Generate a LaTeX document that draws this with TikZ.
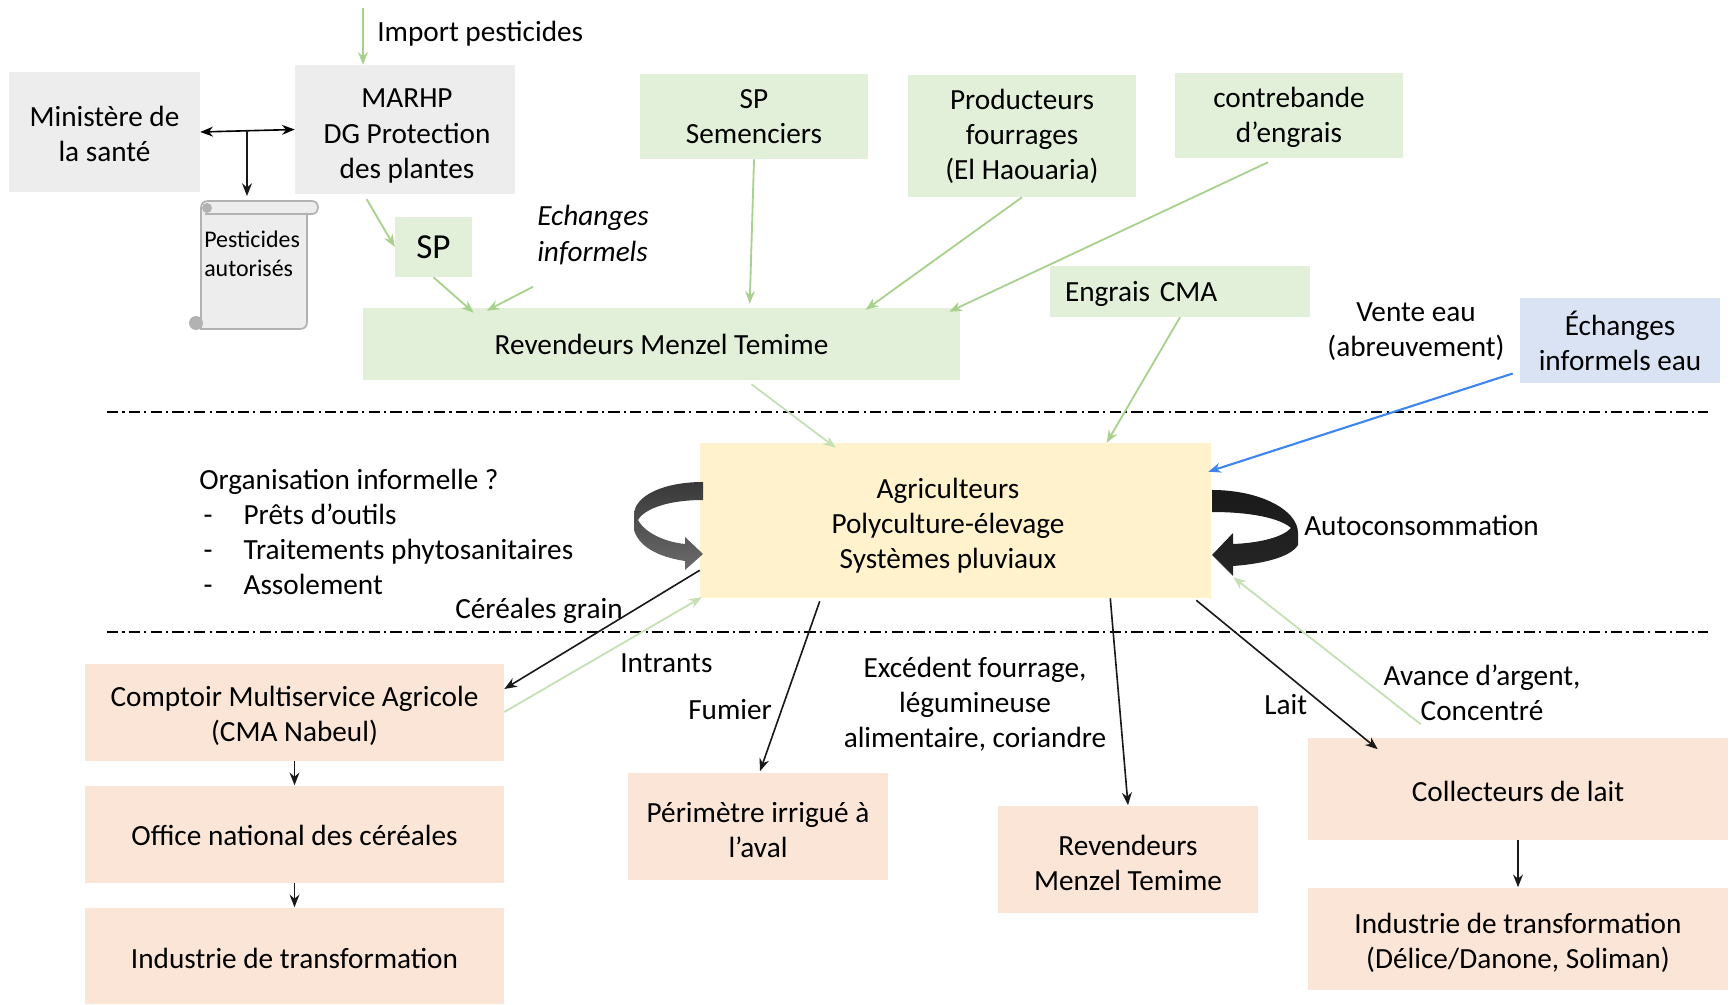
\documentclass[tikz,border=0pt]{standalone}
\usepackage{fontspec}
\setmainfont{Carlito}
\usetikzlibrary{arrows.meta}
\newcommand{\px}{0.025cm}
\definecolor{greybox}{HTML}{EDEDED}
\definecolor{greenbox}{HTML}{E2F0D9}
\definecolor{yellowbox}{HTML}{FFF2CC}
\definecolor{orangebox}{HTML}{FBE5D6}
\definecolor{bluebox}{HTML}{DAE3F3}
\definecolor{greenline}{HTML}{A9D18E}
\definecolor{palegreen}{HTML}{C5E0B4}
\definecolor{blueline}{HTML}{3D85F0}
\tikzset{
  every node/.style={font=\fontsize{20.8}{25}\selectfont},
  txt/.style={align=center, inner sep=0},
  bloc/.style={rectangle, align=center, inner sep=0, minimum width=#1*\px},
  grey/.style={bloc=#1, fill=greybox},
  green/.style={bloc=#1, fill=greenbox},
  orange/.style={bloc=#1, fill=orangebox},
  flux/.style={->, line width=1.15pt, black!90},
  vert/.style={->, line width=1.3pt, greenline},
  pale/.style={->, line width=1.3pt, palegreen},
  limite/.style={line width=.9pt, dash pattern=on 8pt off 3pt on 1.5pt off 3pt},
}
\begin{document}
\begin{tikzpicture}[x=\px, y=-\px, >={Stealth[length=9pt,width=7pt]}]
  \useasboundingbox (0,0) rectangle (1730,1005);
  % institutions
  \node[grey=191, minimum height=120*\px, text height=42.3pt, text depth=0pt] (sante) at (104.5,132) {Ministère de\\la santé};
  \node[grey=220, minimum height=129*\px] (marhp) at (405,129.5) {};
  \node[txt] (marhplabel) at (407,136) {MARHP\\DG Protection\\des plantes};
  \node[txt, anchor=west] (import) at (377,34) {Import pesticides};
  \coordinate (importin) at (363,8);
  \coordinate (dgarrow) at (247,130);
  \coordinate (scrolltop) at (247,196);
  % fournisseurs
  \node[green=77, minimum height=60*\px, font=\fontsize{25}{28}\selectfont] (sp) at (433.5,247) {SP};
  \node[green=228, minimum height=85*\px] (semenciers) at (754,116.5) {SP\\Semenciers};
  \node[green=228, minimum height=122*\px, text depth=2pt] (fourrages) at (1022,136) {Producteurs\\fourrages\\(El Haouaria)};
  \node[green=228, minimum height=85*\px, text depth=1.5pt] (engrais) at (1289,115.5) {contrebande\\d’engrais};
  \node[green=260, minimum height=51*\px, text width=230*\px, align=left, text depth=-3pt] (cma) at (1180,291.5) {Engrais CMA};
  \node[green=597, minimum height=72*\px] (revendeurs) at (661.5,344) {Revendeurs Menzel Temime};
  \node[txt, anchor=west, align=left, font=\fontsize{20.8}{25}\selectfont\itshape] (informels) at (537,235) {Echanges\\informels};
  \node[txt] (vente) at (1416,332) {Vente eau\\(abreuvement)};
  \node[bloc=200, fill=bluebox, minimum height=85*\px] (eau) at (1620,340.5) {Échanges\\informels eau};
  % pesticides autorises
  \filldraw[line width=1.2pt, draw=black!30, fill=greybox] (201,329) -- (300,329) .. controls (305,329) and (307,326) .. (307,322) -- (307,214) -- (312,214) .. controls (316,214) and (318,211) .. (318,208) .. controls (318,204) and (316,201) .. (312,201) -- (208,201) .. controls (203,201) and (201,204) .. (201,208) -- cycle;
  \draw[line width=1.2pt, draw=black!30] (205,214) -- (307,214);
  \fill[black!30] (207,208) circle (5);
  \fill[black!30] (196,323) circle (7);
  \node[txt, anchor=west, align=left, font=\fontsize{17}{20.3}\selectfont] (autorises) at (204,254) {Pesticides\\autorisés};
  % exploitation
  \node[bloc=511, fill=yellowbox, minimum height=155*\px] (agri) at (955.5,520.5) {};
  \node[txt] (agrilabel) at (948,526) {Agriculteurs\\Polyculture-élevage\\Systèmes pluviaux};
  \draw[limite] (107,412) -- (1708,412);
  \draw[limite] (107,632) -- (1708,632);
  \node[txt, anchor=west, align=left] (orga) at (199,532) {Organisation informelle ?\\\makebox[31.5pt][l]{\hspace*{3pt}-}Prêts d’outils\\\makebox[31.5pt][l]{\hspace*{3pt}-}Traitements phytosanitaires\\\makebox[31.5pt][l]{\hspace*{3pt}-}Assolement};
  \node[txt, anchor=west] (auto) at (1304,525) {Autoconsommation};
  % fleches courbes
  \shade[top color=black!78, bottom color=black!58] (703,482) .. controls (665,482) and (634,495) .. (634,515) -- (634,530) .. controls (640,550) and (665,558) .. (685,561) -- (685,570) -- (703,554) -- (685,537) -- (685,544) .. controls (665,542) and (645,533) .. (638,520) .. controls (645,508) and (670,500) .. (703,500) -- cycle;
  \shade[top color=black!90, bottom color=black!85] (1212,490) .. controls (1260,490) and (1298,510) .. (1298,533) -- (1298,545) .. controls (1290,558) and (1260,564) .. (1233,566) -- (1233,576) -- (1212,555) -- (1233,533) -- (1233,544) .. controls (1260,543) and (1283,537) .. (1291,528) .. controls (1280,518) and (1250,512) .. (1212,512) -- cycle;
  % aval
  \node[orange=419, minimum height=97*\px, text height=41.6pt, text depth=0pt] (comptoir) at (294.5,712) {Comptoir Multiservice Agricole\\(CMA Nabeul)};
  \node[orange=419, minimum height=97*\px, text height=16.5pt, text depth=0pt] (office) at (294.5,834) {Office national des céréales};
  \node[orange=419, minimum height=96*\px, text height=18pt, text depth=0pt] (industrie) at (294.5,955.5) {Industrie de transformation};
  \node[orange=260, minimum height=107*\px, text height=44.7pt, text depth=0pt] (perimetre) at (758,826) {Périmètre irrigué à\\l’aval};
  \node[orange=260, minimum height=107*\px, text height=44.7pt, text depth=0pt] (revaval) at (1128,859) {Revendeurs\\Menzel Temime};
  \node[orange=420, minimum height=102*\px, text height=18pt, text depth=0pt] (collecteurs) at (1518,788.5) {Collecteurs de lait};
  \node[orange=420, minimum height=102*\px, text height=43pt, text depth=0pt] (danone) at (1518,938.5) {Industrie de transformation\\(Délice/Danone, Soliman)};
  \node[txt, anchor=west] (cereales) at (455,611) {Céréales grain};
  \node[txt, anchor=west] (intrants) at (620,663) {Intrants};
  \node[txt, anchor=west] (fumier) at (688,710) {Fumier};
  \node[txt] (excedent) at (975,704) {Excédent fourrage,\\légumineuse\\alimentaire, coriandre};
  \node[txt, anchor=west] (lait) at (1264,705) {Lait};
  \node[txt] (avance) at (1482,693) {Avance d’argent,\\Concentré};
  % connecteurs
  \draw[vert] (importin) -- ([shift={(-42,0)}]marhp.north);
  \draw[<->, line width=1.15pt] (sante.east) -- (marhp.west);
  \draw[flux] (dgarrow) -- (scrolltop);
  \draw[vert] ([shift={(72,5)}]marhp.south west) -- (sp.west);
  \draw[vert] (sp.south) -- ([shift={(111,5)}]revendeurs.north west);
  \draw[vert] ([shift={(-4,22)}]informels.south west) -- ([shift={(124,3)}]revendeurs.north west);
  \draw[vert] (semenciers.south) -- ([shift={(387,-4)}]revendeurs.north west);
  \draw[vert] (fourrages.south) -- ([shift={(503,2)}]revendeurs.north west);
  \draw[vert] ([shift={(-21,4)}]engrais.south) -- ([shift={(-11,4)}]revendeurs.north east);
  \draw[vert] (cma.south) -- ([shift={(407,0)}]agri.north west);
  \draw[pale] ([shift={(90,4)}]revendeurs.south) -- ([shift={(136,5)}]agri.north west);
  \draw[->, line width=1.5pt, blueline] ([shift={(-7,33)}]eau.west) -- ([shift={(-3,29)}]agri.north east);
  \draw[pale] ([shift={(113,-13)}]collecteurs.north west) -- ([shift={(22,-21)}]agri.south east);
  \draw[flux] ([shift={(-15,2)}]agri.south east) -- ([shift={(70,12)}]collecteurs.north west);
  \draw[flux] ([shift={(-101,0)}]agri.south east) -- (revaval.north);
  \draw[flux] ([shift={(120,3)}]agri.south west) -- ([shift={(2,-1)}]perimetre.north);
  \draw[flux] ([shift={(0,-28)}]agri.south west) -- ([shift={(0,-23)}]comptoir.east);
  \draw[pale] (comptoir.east) -- ([shift={(2,-1)}]agri.south west);
  \draw[flux] (comptoir.south) -- (office.north);
  \draw[flux] (office.south) -- (industrie.north);
  \draw[flux] (collecteurs.south) -- (danone.north);
\end{tikzpicture}
\end{document}
